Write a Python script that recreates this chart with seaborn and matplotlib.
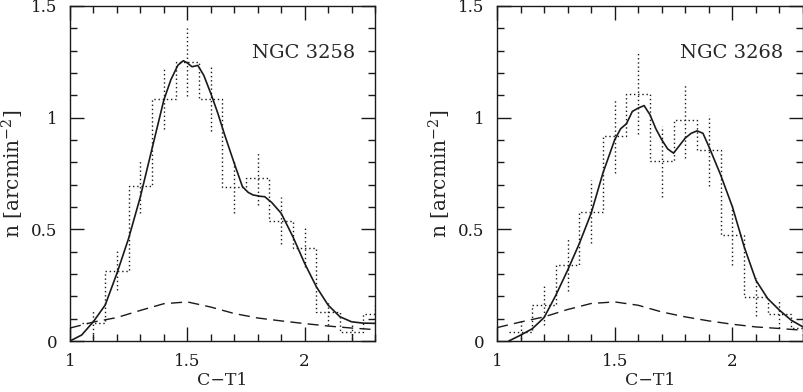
import numpy as np
import matplotlib
matplotlib.use("Agg")
import matplotlib.pyplot as plt
from matplotlib.ticker import MultipleLocator, FuncFormatter
import seaborn as sns

# histogram bins (width 0.1) and values
bin_centers = [1.1, 1.2, 1.3, 1.4, 1.5, 1.6, 1.7, 1.8, 1.9, 2.0, 2.1, 2.2, 2.3]
n_3258 = [0.08, 0.315, 0.694, 1.084, 1.248, 1.084, 0.69, 0.728, 0.539, 0.418, 0.128, 0.042, 0.12]
err_3258 = [0.065, 0.086, 0.12, 0.134, 0.153, 0.145, 0.116, 0.12, 0.105, 0.086, 0.056, 0.035, 0.04]
n_3268 = [0.04, 0.16, 0.34, 0.579, 0.919, 1.108, 0.804, 0.988, 0.853, 0.473, 0.198, 0.12, 0.056]
err_3268 = [0.05, 0.09, 0.115, 0.14, 0.168, 0.183, 0.157, 0.168, 0.157, 0.131, 0.086, 0.064, 0.03]

# smoothed distributions (solid)
sm_x_3258 = [1.0, 1.05, 1.1, 1.15, 1.2, 1.25, 1.3, 1.35, 1.4, 1.43, 1.46, 1.483, 1.5, 1.52, 1.545, 1.57,
             1.6, 1.63, 1.657, 1.7, 1.735, 1.76, 1.78, 1.81, 1.83, 1.86, 1.9, 1.95, 2.0, 2.05, 2.1,
             2.15, 2.2, 2.25, 2.3]
sm_y_3258 = [0.0, 0.027, 0.087, 0.161, 0.303, 0.46, 0.646, 0.863, 1.079, 1.17, 1.235, 1.255, 1.245, 1.228,
             1.234, 1.19, 1.109, 1.02, 0.93, 0.796, 0.691, 0.665, 0.654, 0.648, 0.646, 0.62, 0.572, 0.467,
             0.348, 0.243, 0.161, 0.109, 0.086, 0.08, 0.079]
sm_x_3268 = [1.05, 1.1, 1.15, 1.2, 1.25, 1.3, 1.35, 1.4, 1.45, 1.5, 1.525, 1.55, 1.575, 1.6, 1.625,
             1.65, 1.675, 1.7, 1.725, 1.75, 1.775, 1.8, 1.825, 1.85, 1.875, 1.9, 1.95, 2.0, 2.05,
             2.1, 2.15, 2.2, 2.25, 2.3]
sm_y_3268 = [0.0, 0.026, 0.055, 0.105, 0.205, 0.317, 0.437, 0.572, 0.752, 0.901, 0.95, 0.973, 1.028, 1.043,
             1.054, 1.013, 0.95, 0.901, 0.86, 0.841, 0.875, 0.909, 0.93, 0.941, 0.93, 0.871, 0.744, 0.601,
             0.422, 0.272, 0.19, 0.138, 0.093, 0.063]

# background contamination (dashed)
bg_x = [1.0, 1.1, 1.2, 1.3, 1.4, 1.5, 1.6, 1.7, 1.8, 1.9, 2.0, 2.1, 2.2, 2.3]
bg_3258 = [0.058, 0.085, 0.105, 0.137, 0.167, 0.175, 0.152, 0.123, 0.103, 0.09, 0.078, 0.067, 0.058, 0.051]
bg_3268 = [0.06, 0.085, 0.108, 0.141, 0.168, 0.175, 0.16, 0.13, 0.108, 0.09, 0.075, 0.063, 0.056, 0.048]

galaxies = ["NGC 3258", "NGC 3268"]


def draw_panel(ax, name, n, err, sx, sy, bg):
    centers = np.array(bin_centers)
    n = np.array(n)
    err = np.array(err)
    edges = np.append(centers - 0.05, centers[-1] + 0.05)
    dots = (0, (1, 2))

    ax.stairs(n, edges, baseline=None, color='k', lw=1, linestyle=dots)
    ax.vlines(centers, n - err, n + err, colors='k', lw=1, linestyles=[dots])
    sns.lineplot(x=sx, y=sy, ax=ax, color='k', lw=1.2, sort=False, estimator=None)
    sns.lineplot(x=bg_x, y=bg, ax=ax, color='k', lw=1, sort=False, estimator=None,
                 linestyle=(0, (8, 4.5)))

    ax.set_xlim(1, 2.3)
    ax.set_ylim(0, 1.5)
    ax.xaxis.set_major_locator(MultipleLocator(0.5))
    ax.xaxis.set_minor_locator(MultipleLocator(0.1))
    ax.yaxis.set_major_locator(MultipleLocator(0.5))
    ax.yaxis.set_minor_locator(MultipleLocator(0.1))
    fmt = FuncFormatter(lambda v, _: f'{v:g}')
    ax.xaxis.set_major_formatter(fmt)
    ax.yaxis.set_major_formatter(fmt)
    ax.tick_params(which='both', direction='in', top=True, right=True, width=1, colors='k')
    ax.tick_params(which='major', length=10, labelsize=12)
    ax.tick_params(axis='x', which='major', pad=9)
    ax.tick_params(axis='y', which='major', pad=9)
    ax.tick_params(which='minor', length=5)
    for s in ax.spines.values():
        s.set_linewidth(1)
        s.set_color('k')

    ax.set_xlabel('C\u2212T1', fontsize=12.5, labelpad=1)
    ax.set_ylabel(r'n [arcmin$^{-2}$]', fontsize=14.5, labelpad=4)
    ax.text(2.215, 1.265, name, ha='right', va='baseline', fontsize=14)


sns.set_theme(style='ticks')
plt.rcParams['font.family'] = ['DejaVu Serif']
plt.rcParams['mathtext.fontset'] = 'dejavuserif'

fig = plt.figure(figsize=(8.04, 3.92), dpi=100)
ax1 = fig.add_axes([70 / 804, 51 / 392, 305 / 804, 335 / 392])
ax2 = fig.add_axes([497 / 804, 51 / 392, 306 / 804, 335 / 392])

draw_panel(ax1, galaxies[0], n_3258, err_3258, sm_x_3258, sm_y_3258, bg_3258)
draw_panel(ax2, galaxies[1], n_3268, err_3268, sm_x_3268, sm_y_3268, bg_3268)

fig.savefig('out.png', dpi=100, facecolor='white')
